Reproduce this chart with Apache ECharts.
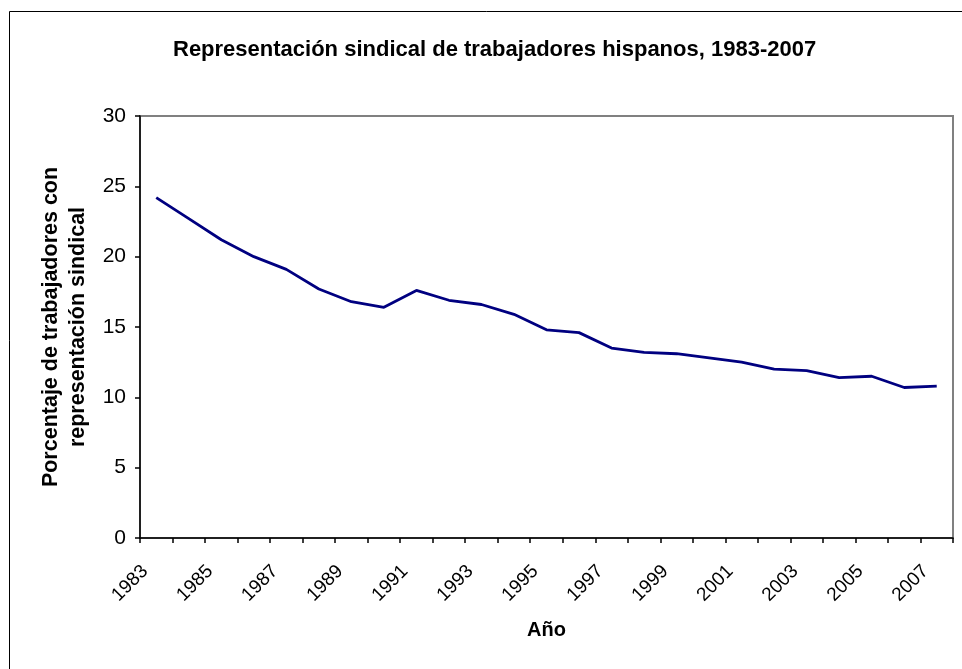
<!DOCTYPE html>
<html lang="es">
<head>
<meta charset="utf-8">
<title>Representación sindical de trabajadores hispanos</title>
<script src="https://cdn.jsdelivr.net/npm/echarts@6/dist/echarts.min.js"></script>
<style>
    html, body { margin: 0; padding: 0; background: #fff; }
    #chart { width: 962px; height: 669px; }
</style>
</head>
<body>
<div id="chart"></div>
<script>
(function (window, document) {
    "use strict";

    // ---- Data ----
    const years = [
        "1983", "1984", "1985", "1986", "1987", "1988", "1989", "1990", "1991",
        "1992", "1993", "1994", "1995", "1996", "1997", "1998", "1999", "2000",
        "2001", "2002", "2003", "2004", "2005", "2006", "2007"
    ];
    const unionShare = [
        24.2, 22.7, 21.2, 20.0, 19.1, 17.7, 16.8, 16.4, 17.6,
        16.9, 16.6, 15.9, 14.8, 14.6, 13.5, 13.2, 13.1, 12.8,
        12.5, 12.0, 11.9, 11.4, 11.5, 10.7, 10.8
    ];
    const yTicks = [0, 5, 10, 15, 20, 25, 30];

    const FONT = "'Liberation Sans', Arial, sans-serif";

    function init() {
        const el = document.getElementById("chart");
        if (!window.echarts || !el) return;

        const chart = echarts.init(el, null, { renderer: "canvas" });
        chart.setOption({
            animation: false,
            backgroundColor: "#fff",
            textStyle: { fontFamily: FONT, color: "#000" },
            title: {
                text: "Representación sindical de trabajadores hispanos, 1983-2007",
                left: 168,
                top: 34,
                textStyle: { fontFamily: FONT, fontSize: 22, fontWeight: "bold", color: "#000" }
            },
            // outer chart-area frame (runs off the right and bottom edges)
            graphic: [{
                type: "rect",
                silent: true,
                shape: { x: 9.5, y: 11.5, width: 1000, height: 1000 },
                style: { fill: "none", stroke: "#000", lineWidth: 1 }
            }],
            grid: {
                left: 140, top: 116, right: 9, bottom: 131,
                show: true,
                borderColor: "#808080",
                borderWidth: 2,
                containLabel: false
            },
            xAxis: {
                type: "category",
                data: years,
                boundaryGap: true,
                name: "Año",
                nameLocation: "middle",
                nameGap: 82,
                nameTextStyle: { fontFamily: FONT, fontSize: 20, fontWeight: "bold", color: "#000" },
                axisLine: { lineStyle: { color: "#000", width: 1.5 } },
                axisTick: { show: true, interval: 0, alignWithLabel: false, length: 5, lineStyle: { color: "#000", width: 1.5 } },
                axisLabel: {
                    interval: 1,
                    rotate: 45,
                    margin: 19,
                    padding: [0, 16, 0, 0],
                    fontFamily: FONT,
                    fontSize: 19,
                    color: "#000"
                },
                splitLine: { show: false }
            },
            yAxis: {
                type: "value",
                min: yTicks[0],
                max: yTicks[yTicks.length - 1],
                interval: yTicks[1] - yTicks[0],
                name: "Porcentaje de trabajadores con\nrepresentación sindical",
                nameLocation: "middle",
                nameRotate: 90,
                nameGap: 48,
                nameTextStyle: { fontFamily: FONT, fontSize: 21.5, fontWeight: "bold", color: "#000", lineHeight: 27 },
                axisLine: { show: true, lineStyle: { color: "#000", width: 1.5 } },
                axisTick: { show: true, length: 5, lineStyle: { color: "#000", width: 1.5 } },
                axisLabel: { margin: 14, fontFamily: FONT, fontSize: 21, color: "#000" },
                splitLine: { show: false }
            },
            series: [{
                name: "Hispanos",
                type: "line",
                data: unionShare,
                symbol: "none",
                lineStyle: { color: "#000080", width: 2.8 },
                itemStyle: { color: "#000080" }
            }]
        });
    }

    init();
})(window, document);
</script>
</body>
</html>
